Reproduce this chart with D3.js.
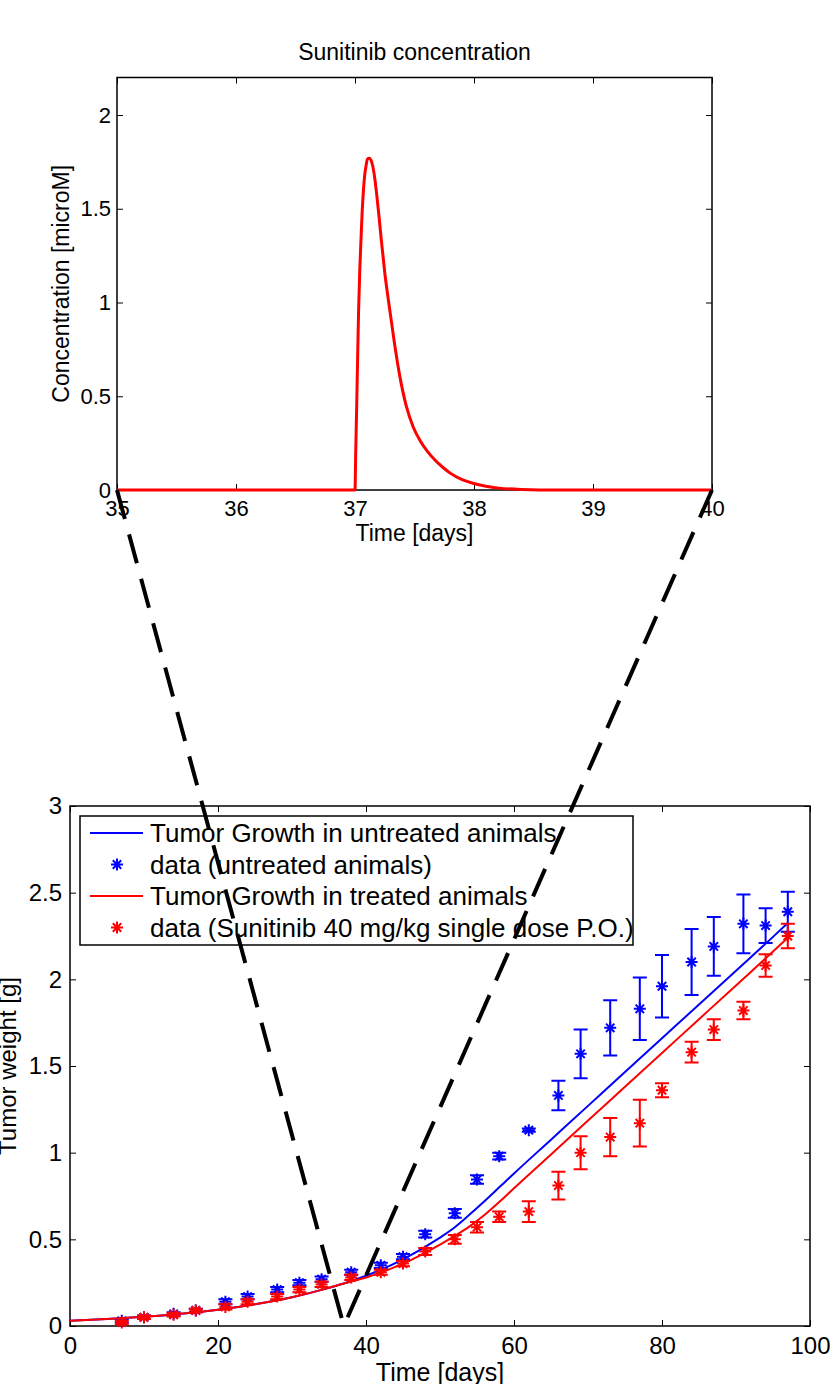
<!DOCTYPE html>
<html lang="en">
<head>
  <meta charset="UTF-8">
  <title>Sunitinib concentration and tumor growth</title>
  <script src="https://d3js.org/d3.v7.min.js"></script>
  <style>
    body { margin: 0; background: #fff; }
    svg { display: block; font-family: 'Liberation Sans', Arial, sans-serif; }
    .tick line { stroke: #000; stroke-width: 1; }
    .tick text { fill: #000; }
  </style>
</head>
<body>
  <svg width="830" height="1384"></svg>

  <script>
    // concentration curve (zoomed window, days 35-40)
    const concDays   = [35, 36, 37, 37.006, 37.014, 37.022, 37.03, 37.04, 37.05, 37.06, 37.07, 37.08, 37.093, 37.105, 37.12,
                        37.14, 37.16, 37.18, 37.2, 37.22, 37.25, 37.29, 37.33, 37.37, 37.43, 37.49, 37.55, 37.61, 37.68,
                        37.74, 37.8, 37.9, 37.99, 38.1, 38.21, 38.4, 38.7, 39, 40];
    const concValues = [0, 0, 0, 0.2, 0.44, 0.7, 0.95, 1.17, 1.33, 1.48, 1.59, 1.67, 1.73, 1.765, 1.77,
                        1.75, 1.69, 1.59, 1.47, 1.34, 1.16, 0.97, 0.79, 0.63, 0.45, 0.335, 0.26, 0.205, 0.155,
                        0.12, 0.09, 0.055, 0.036, 0.02, 0.01, 0.003, 0, 0, 0];
    const concTicksX = [35, 36, 37, 38, 39, 40];
    const concTicksY = [0, 0.5, 1, 1.5, 2];

    // measured tumor weights
    const measureDays    = [7, 10, 14, 17, 21, 24, 28, 31, 34, 38, 42, 45, 48, 52, 55, 58, 62, 66, 69, 73, 77, 80, 84, 87, 91, 94, 97];
    const untreatedMean  = [0.03, 0.05, 0.07, 0.09, 0.14, 0.17, 0.21, 0.25, 0.27, 0.31, 0.35, 0.40, 0.53, 0.65, 0.845, 0.98, 1.13, 1.33, 1.57, 1.72, 1.83, 1.96, 2.10, 2.19, 2.32, 2.31, 2.39];
    const untreatedErr   = [0.01, 0.01, 0.01, 0.01, 0.015, 0.015, 0.015, 0.015, 0.015, 0.015, 0.015, 0.015, 0.02, 0.025, 0.025, 0.02, 0.01, 0.085, 0.14, 0.16, 0.18, 0.18, 0.19, 0.17, 0.17, 0.10, 0.115];
    const treatedMean    = [0.02, 0.05, 0.065, 0.09, 0.11, 0.14, 0.17, 0.21, 0.24, 0.28, 0.31, 0.36, 0.43, 0.50, 0.57, 0.63, 0.66, 0.81, 1.00, 1.09, 1.17, 1.36, 1.58, 1.71, 1.82, 2.08, 2.25];
    const treatedErr     = [0.01, 0.01, 0.01, 0.01, 0.015, 0.015, 0.015, 0.015, 0.015, 0.015, 0.015, 0.015, 0.02, 0.025, 0.03, 0.03, 0.06, 0.08, 0.095, 0.11, 0.135, 0.04, 0.06, 0.06, 0.05, 0.065, 0.07];

    // model curves
    const untreatedModelDays = [0, 5, 10, 15, 20, 25, 30, 35, 37, 40, 45, 50, 52, 54, 56, 58, 60, 65, 70, 75, 80, 85, 90, 95, 97];
    const untreatedModel     = [0.03, 0.04, 0.053, 0.07, 0.094, 0.125, 0.166, 0.22, 0.245, 0.29, 0.385, 0.51, 0.57, 0.643, 0.72, 0.80, 0.88, 1.075, 1.27, 1.465, 1.66, 1.855, 2.05, 2.245, 2.325];
    const treatedModelDays   = [0, 5, 10, 15, 20, 25, 30, 35, 37, 40, 45, 50, 52, 54, 56, 58, 60, 65, 70, 75, 80, 85, 90, 95, 97];
    const treatedModel       = [0.03, 0.04, 0.053, 0.07, 0.094, 0.125, 0.166, 0.22, 0.245, 0.28, 0.36, 0.47, 0.52, 0.575, 0.64, 0.715, 0.795, 0.99, 1.185, 1.38, 1.575, 1.77, 1.965, 2.16, 2.24];

    const growthTicksX = [0, 20, 40, 60, 80, 100];
    const growthTicksY = [0, 0.5, 1, 1.5, 2, 2.5, 3];

    const legendLabels = [
      "Tumor Growth in untreated animals",
      "data (untreated animals)",
      "Tumor Growth in treated animals",
      "data (Sunitinib 40 mg/kg single dose P.O.)"
    ];

    const svg = d3.select("svg");
    const BLUE = "#0000ff", RED = "#ff0000";
    const fmt = d => String(d);

    function frame(g, x, y, ticksX, ticksY, fs, padX, padY) {
      const [x0, x1] = x.range(), [y0, y1] = y.range();
      g.append("g").attr("transform", `translate(0,${y0})`)
        .call(d3.axisBottom(x).tickValues(ticksX).tickFormat(fmt).tickSizeInner(-6).tickSizeOuter(0).tickPadding(padX))
        .call(a => a.select(".domain").remove())
        .selectAll("text").style("font-size", fs + "px");
      g.append("g").attr("transform", `translate(0,${y1})`)
        .call(d3.axisTop(x).tickValues(ticksX).tickFormat("").tickSizeInner(-6).tickSizeOuter(0))
        .call(a => a.select(".domain").remove());
      g.append("g").attr("transform", `translate(${x0},0)`)
        .call(d3.axisLeft(y).tickValues(ticksY).tickFormat(fmt).tickSizeInner(-6).tickSizeOuter(0).tickPadding(padY))
        .call(a => a.select(".domain").remove())
        .selectAll("text").style("font-size", fs + "px");
      g.append("g").attr("transform", `translate(${x1},0)`)
        .call(d3.axisRight(y).tickValues(ticksY).tickFormat("").tickSizeInner(-6).tickSizeOuter(0))
        .call(a => a.select(".domain").remove());
      g.append("rect")
        .attr("x", x0).attr("y", y1)
        .attr("width", x1 - x0).attr("height", y0 - y1)
        .attr("fill", "none").attr("stroke", "#000").attr("stroke-width", 1.5);
    }

    // ---------- top chart: concentration ----------
    const xc = d3.scaleLinear().domain([35, 40]).range([117, 712]);
    const yc = d3.scaleLinear().domain([0, 2.2]).range([490, 77.5]);
    const concG = svg.append("g");
    frame(concG, xc, yc, concTicksX, concTicksY, 22, 10, 6);

    concG.append("path")
      .datum(concDays.map((d, i) => [d, concValues[i]]))
      .attr("d", d3.line().x(d => xc(d[0])).y(d => yc(d[1])).curve(d3.curveMonotoneX))
      .attr("fill", "none").attr("stroke", RED).attr("stroke-width", 3);

    const cx = (xc.range()[0] + xc.range()[1]) / 2;
    concG.append("text")
      .attr("x", cx).attr("y", 60)
      .attr("text-anchor", "middle").style("font-size", "23px")
      .text("Sunitinib concentration");
    concG.append("text")
      .attr("x", cx).attr("y", 541)
      .attr("text-anchor", "middle").style("font-size", "23px")
      .text("Time [days]");
    concG.append("text")
      .attr("transform", `translate(69,${(yc.range()[0] + yc.range()[1]) / 2}) rotate(-90)`)
      .attr("text-anchor", "middle").style("font-size", "23px")
      .text("Concentration [microM]");

    // ---------- bottom chart: tumor growth ----------
    const xg = d3.scaleLinear().domain([0, 100]).range([70, 810]);
    const yg = d3.scaleLinear().domain([0, 3]).range([1326, 806]);
    const growthG = svg.append("g");
    frame(growthG, xg, yg, growthTicksX, growthTicksY, 24, 11, 8);

    const line = d3.line().x(d => xg(d[0])).y(d => yg(d[1])).curve(d3.curveMonotoneX);
    const star = "M-6,0H6M0,-6V6M-4.2,-4.2L4.2,4.2M-4.2,4.2L4.2,-4.2";

    function series(days, mean, err, mDays, model, color) {
      growthG.append("path")
        .datum(mDays.map((d, i) => [d, model[i]]))
        .attr("d", line)
        .attr("fill", "none").attr("stroke", color).attr("stroke-width", 2);
      const pts = growthG.append("g").selectAll("g")
        .data(days.map((d, i) => ({ t: d, m: mean[i], e: err[i] })))
        .join("g")
        .attr("stroke", color).attr("stroke-width", 2).attr("fill", "none");
      pts.append("path")
        .attr("d", d => {
          const x = xg(d.t), a = yg(d.m + d.e), b = yg(d.m - d.e);
          return `M${x},${a}V${b}M${x - 7},${a}H${x + 7}M${x - 7},${b}H${x + 7}`;
        });
      pts.append("path")
        .attr("transform", d => `translate(${xg(d.t)},${yg(d.m)})`)
        .attr("d", star);
    }
    series(measureDays, untreatedMean, untreatedErr, untreatedModelDays, untreatedModel, BLUE);
    series(measureDays, treatedMean, treatedErr, treatedModelDays, treatedModel, RED);

    growthG.append("text")
      .attr("x", (xg.range()[0] + xg.range()[1]) / 2).attr("y", 1381)
      .attr("text-anchor", "middle").style("font-size", "25px")
      .text("Time [days]");
    growthG.append("text")
      .attr("transform", `translate(16,${(yg.range()[0] + yg.range()[1]) / 2}) rotate(-90)`)
      .attr("text-anchor", "middle").style("font-size", "24px")
      .text("Tumor weight [g]");

    // legend
    const leg = growthG.append("g").attr("transform", "translate(80,816)");
    leg.append("rect").attr("width", 553).attr("height", 129)
      .attr("fill", "#fff").attr("stroke", "#000").attr("stroke-width", 1.5);
    const rowColors = [BLUE, BLUE, RED, RED];
    legendLabels.forEach((lab, i) => {
      const y = 17 + i * 31.5;
      if (i % 2 === 0) {
        leg.append("line").attr("x1", 10).attr("x2", 63).attr("y1", y).attr("y2", y)
          .attr("stroke", rowColors[i]).attr("stroke-width", 2);
      } else {
        leg.append("path").attr("transform", `translate(37,${y})`).attr("d", star)
          .attr("stroke", rowColors[i]).attr("stroke-width", 2).attr("fill", "none");
      }
      leg.append("text").attr("x", 70).attr("y", y).attr("dy", "0.35em")
        .style("font-size", "26px").text(lab);
    });

    // ---------- zoom connector (dashed V) ----------
    const tip = [xg(37), yg(0)];
    [[xc(35), yc(0)], [xc(40), yc(0)]].forEach(p => {
      svg.append("line")
        .attr("x1", p[0]).attr("y1", p[1]).attr("x2", tip[0]).attr("y2", tip[1])
        .attr("stroke", "#000").attr("stroke-width", 4)
        .attr("stroke-dasharray", "30,16");
    });
  </script>
</body>
</html>
